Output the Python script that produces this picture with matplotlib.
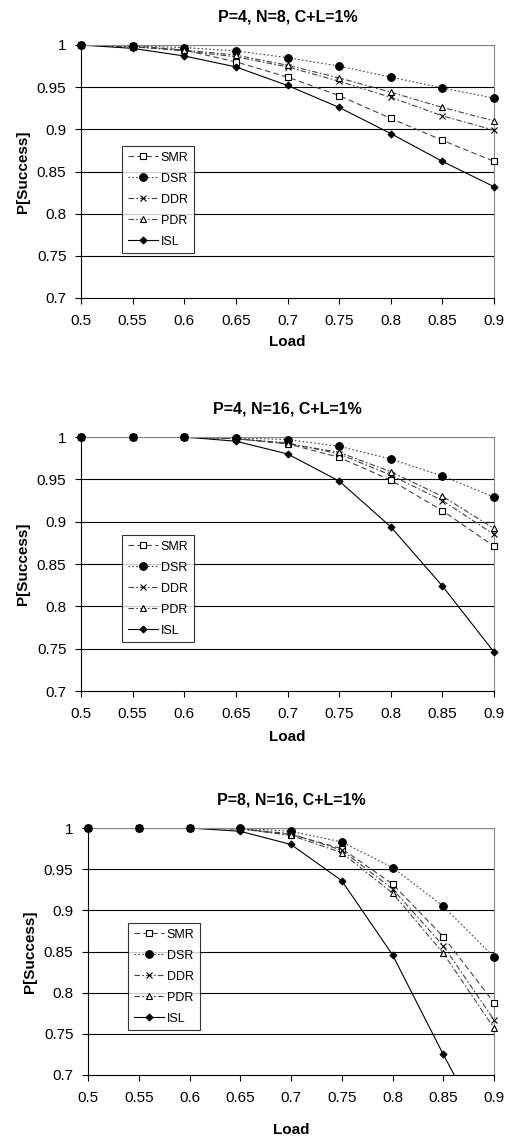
import numpy as np
import matplotlib.pyplot as plt

plt.rcParams['font.family'] = ['Liberation Sans', 'DejaVu Sans']

load = [0.5, 0.55, 0.6, 0.65, 0.7, 0.75, 0.8, 0.85, 0.9]
series_names = ["SMR", "DSR", "DDR", "PDR", "ISL"]
titles = ["P=4, N=8, C+L=1%", "P=4, N=16, C+L=1%", "P=8, N=16, C+L=1%"]

# panel 1: P=4, N=8
p1_smr = [1.0, 0.999, 0.994, 0.980, 0.962, 0.940, 0.913, 0.887, 0.862]
p1_dsr = [1.0, 0.999, 0.997, 0.993, 0.985, 0.975, 0.962, 0.949, 0.937]
p1_ddr = [1.0, 0.998, 0.993, 0.986, 0.974, 0.957, 0.938, 0.916, 0.899]
p1_pdr = [1.0, 0.998, 0.994, 0.988, 0.976, 0.961, 0.944, 0.926, 0.910]
p1_isl = [1.0, 0.996, 0.987, 0.974, 0.952, 0.926, 0.895, 0.862, 0.832]

# panel 2: P=4, N=16
p2_smr = [1.0, 1.0, 1.0, 0.998, 0.992, 0.976, 0.949, 0.913, 0.871]
p2_dsr = [1.0, 1.0, 1.0, 0.999, 0.997, 0.989, 0.974, 0.954, 0.929]
p2_ddr = [1.0, 1.0, 1.0, 0.998, 0.993, 0.980, 0.955, 0.925, 0.885]
p2_pdr = [1.0, 1.0, 1.0, 0.998, 0.992, 0.982, 0.959, 0.930, 0.892]
p2_isl = [1.0, 1.0, 1.0, 0.995, 0.980, 0.948, 0.894, 0.824, 0.746]

# panel 3: P=8, N=16
p3_smr = [1.0, 1.0, 1.0, 0.999, 0.992, 0.975, 0.932, 0.868, 0.788]
p3_dsr = [1.0, 1.0, 1.0, 1.0, 0.996, 0.983, 0.952, 0.905, 0.843]
p3_ddr = [1.0, 1.0, 1.0, 0.999, 0.993, 0.973, 0.926, 0.857, 0.767]
p3_pdr = [1.0, 1.0, 1.0, 0.999, 0.991, 0.970, 0.921, 0.848, 0.757]
p3_isl = [1.0, 1.0, 1.0, 0.996, 0.980, 0.936, 0.846, 0.725, 0.61]

panels = [
    [p1_smr, p1_dsr, p1_ddr, p1_pdr, p1_isl],
    [p2_smr, p2_dsr, p2_ddr, p2_pdr, p2_isl],
    [p3_smr, p3_dsr, p3_ddr, p3_pdr, p3_isl],
]

styles = {
    "SMR": dict(ls=(0, (5, 3)), marker="s", mfc="white", ms=5, color="#444444"),
    "DSR": dict(ls=(0, (1.5, 2)), marker="o", mfc="black", ms=5.5, color="#444444"),
    "DDR": dict(ls=(0, (5, 2, 1.5, 2)), marker="x", mfc="none", ms=5, color="#444444"),
    "PDR": dict(ls=(0, (5, 2, 1.5, 2)), marker="^", mfc="white", ms=5, color="#444444"),
    "ISL": dict(ls="-", marker="D", mfc="black", ms=3.5, color="black"),
}

W, H = 511, 1136
# axes boxes in pixels: left, right, top, bottom
boxes = [(81, 494, 45, 298), (81, 494, 437, 691), (88, 494, 828, 1075)]
legend_pos = [(122, 146), (122, 535), (128, 923)]
xlabel_pads = [5, 6.5, 13]
tick_font = ['Liberation Sans Narrow', 'Liberation Sans']

fig = plt.figure(figsize=(W / 100, H / 100), dpi=100)

for i, (l, r, t, b) in enumerate(boxes):
    ax = fig.add_axes([l / W, 1 - b / H, (r - l) / W, (b - t) / H])
    for name, ys in zip(series_names, panels[i]):
        st = styles[name]
        ax.plot(load, ys, linestyle=st["ls"], color=st["color"], lw=0.8, clip_on=True)
        # markers drawn unclipped so those on the frame stay whole
        xs = [x for x, y in zip(load, ys) if y >= 0.7]
        yv = [y for y in ys if y >= 0.7]
        ax.plot(xs, yv, linestyle="none", marker=st["marker"], mfc=st["mfc"],
                mec="black", ms=st["ms"], mew=0.8, clip_on=False, zorder=3)
        ax.plot([], [], linestyle=st["ls"], color=st["color"], lw=0.8, marker=st["marker"],
                mfc=st["mfc"], mec="black", ms=st["ms"], mew=0.8, label=name)
    ax.set_xlim(0.5, 0.9)
    ax.set_ylim(0.7, 1.0)
    ax.set_xticks(load)
    ax.set_xticklabels(["0.5", "0.55", "0.6", "0.65", "0.7", "0.75", "0.8", "0.85", "0.9"])
    yt = [0.7, 0.75, 0.8, 0.85, 0.9, 0.95, 1.0]
    ax.set_yticks(yt)
    ax.set_yticklabels(["0.7", "0.75", "0.8", "0.85", "0.9", "0.95", "1"])
    for y in yt[1:]:
        ax.axhline(y, color="black", lw=0.8, zorder=0)
    ax.tick_params(labelsize=11, length=4.5, width=0.8, direction="out")
    ax.tick_params(axis="x", pad=7)
    ax.tick_params(axis="y", pad=6)
    for lab in ax.get_xticklabels() + ax.get_yticklabels():
        lab.set_family(tick_font)
    for s in ["top", "right"]:
        ax.spines[s].set_color("#888888")
        ax.spines[s].set_linewidth(0.8)
    for s in ["left", "bottom"]:
        ax.spines[s].set_linewidth(0.8)
    ax.set_title(titles[i], fontsize=11.5, fontweight="bold", pad=17)
    ax.set_xlabel("Load", fontsize=11, fontweight="bold", labelpad=xlabel_pads[i])
    ax.set_ylabel("P[Success]", fontsize=11, fontweight="bold", labelpad=5)
    lx, ly = legend_pos[i]
    leg = ax.legend(loc="upper left", bbox_to_anchor=((lx - l) / (r - l), 1 - (ly - t) / (b - t)),
                    fontsize=9, frameon=True, fancybox=False, edgecolor="black",
                    borderpad=0.45, labelspacing=0.72, handlelength=2.4, handletextpad=0.25,
                    borderaxespad=0)
    leg.get_frame().set_linewidth(0.8)

fig.savefig("out.png", dpi=100, facecolor="white")
